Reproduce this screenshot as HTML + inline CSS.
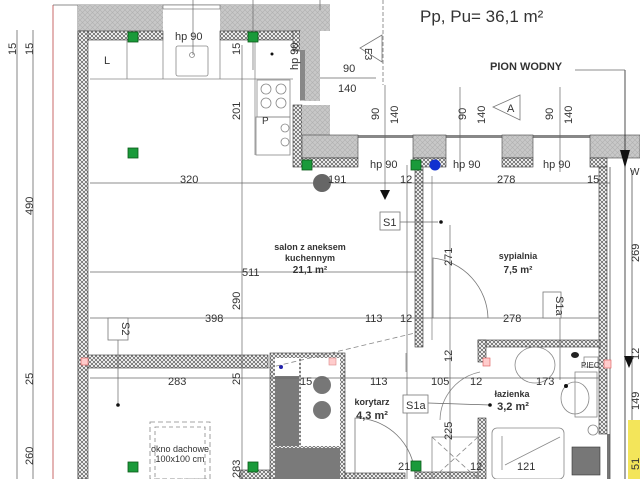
<!DOCTYPE html>
<html><head><meta charset="utf-8"><style>
html,body{margin:0;padding:0;background:#fff;width:640px;height:479px;overflow:hidden}
svg{display:block}
text{font-family:"Liberation Sans",sans-serif;fill:#333}
</style></head><body>
<svg width="640" height="479" viewBox="0 0 640 479" xmlns="http://www.w3.org/2000/svg">
<defs>
<pattern id="h" width="4" height="4" patternUnits="userSpaceOnUse"><rect width="4" height="4" fill="#fff"/><path d="M0 0L4 4M4 0L0 4" stroke="#555" stroke-width="0.7"/></pattern>
<pattern id="g" width="5" height="5" patternUnits="userSpaceOnUse"><rect width="5" height="5" fill="#c8c8c8"/><path d="M0 0L5 5M5 0L0 5" stroke="#b0b0b0" stroke-width="0.6"/></pattern>
</defs>
<g stroke="#666" stroke-width="0.8" fill="none">
<line x1="17" y1="30" x2="17" y2="479"/><line x1="33" y1="30" x2="33" y2="479"/>
<line x1="53" y1="5" x2="53" y2="479" stroke="#b44"/>
<line x1="53" y1="5" x2="330" y2="5"/>
<line x1="78" y1="5" x2="78" y2="479"/>
</g>
<rect x="78" y="5" width="85" height="26" fill="url(#g)"/>
<rect x="220" y="5" width="110" height="26" fill="url(#g)"/>
<rect x="163" y="5" width="57" height="4" fill="#fff" stroke="#666" stroke-width="0.6"/>
<rect x="78" y="31" width="85" height="9" fill="url(#h)" stroke="#333" stroke-width="0.6"/>
<rect x="220" y="31" width="80" height="9" fill="url(#h)" stroke="#333" stroke-width="0.6"/>
<rect x="78" y="31" width="10" height="448" fill="url(#h)" stroke="#333" stroke-width="0.6"/>
<rect x="293" y="31" width="7" height="20" fill="url(#h)" stroke="#333" stroke-width="0.6"/>
<rect x="300" y="31" width="20" height="70" fill="url(#g)"/>
<rect x="300" y="50" width="5" height="50" fill="#888"/>
<rect x="293" y="105" width="9" height="62" fill="url(#h)" stroke="#333" stroke-width="0.6"/>
<rect x="302" y="105" width="28" height="30" fill="url(#g)"/>
<rect x="302" y="135" width="338" height="3" fill="#888"/>
<rect x="302" y="135" width="56" height="23" fill="url(#g)" stroke="#444" stroke-width="0.6"/>
<rect x="413" y="135" width="33" height="23" fill="url(#g)" stroke="#444" stroke-width="0.6"/>
<rect x="502" y="135" width="31" height="23" fill="url(#g)" stroke="#444" stroke-width="0.6"/>
<rect x="590" y="135" width="50" height="23" fill="url(#g)" stroke="#444" stroke-width="0.6"/>
<rect x="302" y="158" width="56" height="9" fill="url(#h)" stroke="#333" stroke-width="0.6"/>
<rect x="413" y="158" width="33" height="9" fill="url(#h)" stroke="#333" stroke-width="0.6"/>
<rect x="502" y="158" width="31" height="9" fill="url(#h)" stroke="#333" stroke-width="0.6"/>
<rect x="590" y="158" width="17" height="9" fill="url(#h)" stroke="#333" stroke-width="0.6"/>
<rect x="415" y="167" width="8" height="180" fill="url(#h)" stroke="#333" stroke-width="0.6"/>
<rect x="599" y="167" width="8" height="267" fill="url(#h)" stroke="#333" stroke-width="0.6"/>
<rect x="88" y="355" width="180" height="13" fill="url(#h)" stroke="#333" stroke-width="0.6"/>
<rect x="478" y="340" width="122" height="7" fill="url(#h)" stroke="#333" stroke-width="0.6"/>
<rect x="478" y="340" width="8" height="22" fill="url(#h)" stroke="#333" stroke-width="0.6"/>
<rect x="478" y="418" width="8" height="61" fill="url(#h)" stroke="#333" stroke-width="0.6"/>
<rect x="270" y="353" width="75" height="126" fill="url(#h)" stroke="#333" stroke-width="0.6"/>
<rect x="275" y="358" width="24" height="18" fill="#fff"/>
<rect x="275" y="376" width="24" height="70" fill="#7a7a7a"/>
<rect x="301" y="358" width="39" height="88" fill="#fff"/>
<rect x="275" y="448" width="65" height="31" fill="#7a7a7a"/>
<circle cx="281" cy="367" r="2" fill="#22a"/>
<rect x="329" y="358" width="7" height="7" fill="#fcc" stroke="#d88" stroke-width="0.6"/>
<circle cx="322" cy="385" r="9" fill="#777"/><circle cx="322" cy="410" r="9" fill="#777"/>
<rect x="345" y="473" width="60" height="6" fill="url(#h)" stroke="#333" stroke-width="0.6"/>
<rect x="240" y="470" width="30" height="9" fill="url(#h)" stroke="#333" stroke-width="0.6"/>
<rect x="415" y="472" width="63" height="7" fill="url(#h)" stroke="#333" stroke-width="0.6"/>
<rect x="572" y="447" width="28" height="28" fill="#777" stroke="#333" stroke-width="0.6"/>
<rect x="607" y="434" width="3" height="45" fill="#777"/>
<g stroke="#555" stroke-width="0.8"><line x1="610" y1="167" x2="610" y2="479"/><line x1="625" y1="70" x2="625" y2="479" stroke="#222"/><line x1="632" y1="170" x2="632" y2="479"/></g>
<rect x="628" y="420" width="12" height="59" fill="#f3e55a"/>
<polygon points="620,150 630,150 625,168" fill="#111"/>
<polygon points="624,356 634,356 629,368" fill="#111"/>
<g stroke="#888" stroke-width="0.8" fill="none">
<line x1="90" y1="79" x2="293" y2="79"/>
<line x1="127" y1="40" x2="127" y2="79"/><line x1="163" y1="40" x2="163" y2="79"/><line x1="220" y1="40" x2="220" y2="79"/><line x1="255" y1="40" x2="255" y2="155"/>
<rect x="176" y="46" width="32" height="30" rx="2"/>
<circle cx="192" cy="55" r="2.5"/>
<rect x="257" y="80" width="33" height="37"/>
<circle cx="266" cy="89" r="5"/><circle cx="281" cy="89" r="5"/><circle cx="266" cy="103" r="5"/><circle cx="281" cy="103" r="5"/>
<rect x="256" y="117" width="34" height="38"/>
<circle cx="285" cy="128" r="4"/><circle cx="285" cy="142" r="4"/>
<path d="M433 318 L433 258 A62 62 0 0 1 488 318" stroke="#777"/>
<path d="M432 176 L432 340"/>
<path d="M406 353 L406 372" />
<path d="M355 478 L355 418 A60 60 0 0 1 415 476" stroke="#777"/>
<path d="M440 420 A50 50 0 0 1 480 372"/>
<path d="M268 368 L415 333" stroke-dasharray="5 3"/>
<rect x="150" y="422" width="60" height="57" stroke-dasharray="5 3"/>
<rect x="155" y="427" width="50" height="52" stroke-dasharray="4 3"/>
<rect x="432" y="437" width="46" height="42"/>
<path d="M432 437 L478 479 M478 437 L432 479" stroke-dasharray="5 3"/>
<rect x="492" y="428" width="72" height="51" rx="5"/>
<path d="M505 465 L560 437"/>
<path d="M502 436 L502 470"/>
<ellipse cx="535" cy="365" rx="20" ry="18"/>
<ellipse cx="575" cy="398" rx="14" ry="16"/>
<rect x="575" y="372" width="22" height="45"/>
<circle cx="593" cy="430" r="5"/>
<rect x="584" y="357" width="14" height="10"/>
</g>
<g stroke="#666" stroke-width="0.7" fill="none">
<line x1="90" y1="183" x2="610" y2="183"/>
<line x1="90" y1="272" x2="415" y2="272"/>
<line x1="90" y1="318" x2="600" y2="318"/>
<line x1="90" y1="378" x2="600" y2="378"/>
<line x1="242" y1="45" x2="242" y2="479"/>
<line x1="460" y1="87" x2="460" y2="172"/>
<line x1="560" y1="87" x2="560" y2="172"/>
<line x1="385" y1="85" x2="385" y2="190"/>
<line x1="383" y1="0" x2="383" y2="85" stroke-dasharray="4 2"/>
<line x1="253" y1="0" x2="253" y2="70"/>
<line x1="193" y1="0" x2="193" y2="55"/>
<line x1="320" y1="78" x2="376" y2="78"/>
<line x1="320" y1="0" x2="320" y2="10"/>
<line x1="450" y1="225" x2="450" y2="479"/>
<line x1="560" y1="292" x2="560" y2="380"/>
<line x1="575" y1="70" x2="625" y2="70"/>
<line x1="118" y1="338" x2="118" y2="405"/>
<line x1="400" y1="222" x2="438" y2="222"/>
<line x1="428" y1="403" x2="490" y2="405"/>
<line x1="407" y1="165" x2="407" y2="479"/>
</g>
<polygon points="380,190 390,190 385,200" fill="#111"/>
<g stroke="#777" fill="#fff" stroke-width="0.8">
<polygon points="382,35 360,48 382,62"/>
<polygon points="520,95 493,107 520,120"/>
</g>
<text x="369" y="52" font-size="10" transform="rotate(90 369 48)">E3</text>
<text x="507" y="112" font-size="11">A</text>
<g fill="#fcc" stroke="#d55" stroke-width="0.6">
<rect x="81" y="358" width="7" height="7"/><rect x="483" y="358" width="7" height="8"/><rect x="604" y="360" width="7" height="8"/>
</g>
<g fill="#1a9a3a" stroke="#0a5a1a" stroke-width="0.8">
<rect x="128" y="32" width="10" height="10"/><rect x="248" y="32" width="10" height="10"/>
<rect x="128" y="148" width="10" height="10"/><rect x="302" y="160" width="10" height="10"/>
<rect x="411" y="160" width="10" height="10"/><rect x="128" y="462" width="10" height="10"/>
<rect x="248" y="462" width="10" height="10"/><rect x="411" y="461" width="10" height="10"/>
</g>
<circle cx="435" cy="165" r="5.5" fill="#1030d0"/>
<circle cx="322" cy="183" r="9" fill="#666"/>
<circle cx="272" cy="54" r="1.5" fill="#111"/><circle cx="441" cy="222" r="1.8" fill="#111"/>
<circle cx="118" cy="405" r="1.8" fill="#111"/><circle cx="490" cy="405" r="1.8" fill="#111"/>
<circle cx="566" cy="386" r="2" fill="#111"/>
<ellipse cx="575" cy="355" rx="4" ry="3" fill="#222"/>
<g fill="#fff" stroke="#777" stroke-width="0.8">
<rect x="380" y="212" width="20" height="18"/>
<rect x="108" y="318" width="20" height="22"/>
<rect x="403" y="395" width="25" height="18"/>
<rect x="543" y="292" width="18" height="26"/>
</g>
<text x="383" y="226" font-size="11">S1</text>
<text x="406" y="409" font-size="11">S1a</text>
<text x="122" y="322" font-size="11" transform="rotate(90 122 322)">S2</text>
<text x="556" y="296" font-size="11" transform="rotate(90 556 296)">S1a</text>
<text x="420" y="22" font-size="17">Pp, Pu= 36,1 m²</text>
<text x="490" y="70" font-size="11" font-weight="bold">PION WODNY</text>
<text x="104" y="64" font-size="11">L</text>
<text x="175" y="40" font-size="11">hp 90</text>
<text x="262" y="124" font-size="10">P</text>
<g font-size="11">
<text x="343" y="72">90</text><text x="338" y="92">140</text>
<text x="180" y="183">320</text><text x="328" y="183">191</text><text x="400" y="183">12</text>
<text x="497" y="183">278</text><text x="587" y="183">15</text>
<text x="370" y="168">hp 90</text><text x="453" y="168">hp 90</text><text x="543" y="168">hp 90</text>
<text x="242" y="276">511</text>
<text x="205" y="322">398</text><text x="365" y="322">113</text><text x="400" y="322">12</text><text x="503" y="322">278</text>
<text x="168" y="385">283</text><text x="370" y="385">113</text><text x="431" y="385">105</text><text x="470" y="385">12</text><text x="536" y="385">173</text>
<text x="300" y="385">15</text><text x="398" y="470">21</text><text x="470" y="470">12</text><text x="517" y="470">121</text>
</g>
<g font-size="11">
<text x="0" y="0" transform="translate(240,120) rotate(-90)">201</text>
<text x="0" y="0" transform="translate(240,310) rotate(-90)">290</text>
<text x="0" y="0" transform="translate(240,385) rotate(-90)">25</text>
<text x="0" y="0" transform="translate(240,478) rotate(-90)">283</text>
<text x="0" y="0" transform="translate(298,70) rotate(-90)">hp 90</text>
<text x="0" y="0" transform="translate(240,55) rotate(-90)">15</text>
<text x="0" y="0" transform="translate(379,120) rotate(-90)">90</text>
<text x="0" y="0" transform="translate(398,124) rotate(-90)">140</text>
<text x="0" y="0" transform="translate(466,120) rotate(-90)">90</text>
<text x="0" y="0" transform="translate(485,124) rotate(-90)">140</text>
<text x="0" y="0" transform="translate(553,120) rotate(-90)">90</text>
<text x="0" y="0" transform="translate(572,124) rotate(-90)">140</text>
<text x="0" y="0" transform="translate(452,266) rotate(-90)">271</text>
<text x="0" y="0" transform="translate(452,362) rotate(-90)">12</text>
<text x="0" y="0" transform="translate(452,440) rotate(-90)">225</text>
<text x="0" y="0" transform="translate(639,262) rotate(-90)">269</text>
<text x="0" y="0" transform="translate(639,360) rotate(-90)">12</text>
<text x="0" y="0" transform="translate(639,410) rotate(-90)">149</text>
<text x="0" y="0" transform="translate(639,470) rotate(-90)">51</text>
<text x="0" y="0" transform="translate(16,55) rotate(-90)">15</text>
<text x="0" y="0" transform="translate(33,55) rotate(-90)">15</text>
<text x="0" y="0" transform="translate(33,215) rotate(-90)">490</text>
<text x="0" y="0" transform="translate(33,385) rotate(-90)">25</text>
<text x="0" y="0" transform="translate(33,465) rotate(-90)">260</text>
</g>
<g font-size="9" text-anchor="middle" font-weight="bold">
<text x="310" y="250">salon z aneksem</text><text x="310" y="261">kuchennym</text>
<text x="310" y="273" font-size="10">21,1 m²</text>
<text x="518" y="259">sypialnia</text><text x="518" y="273" font-size="10">7,5 m²</text>
<text x="372" y="405">korytarz</text><text x="372" y="419" font-size="11">4,3 m²</text>
<text x="512" y="397">łazienka</text><text x="513" y="410" font-size="11">3,2 m²</text>
</g>
<text x="581" y="368" font-size="8">PIEC</text>
<text x="180" y="452" font-size="9" text-anchor="middle">okno dachowe</text>
<text x="180" y="462" font-size="9" text-anchor="middle">100x100 cm</text>
<text x="630" y="175" font-size="10">W</text>
</svg>
</body></html>
